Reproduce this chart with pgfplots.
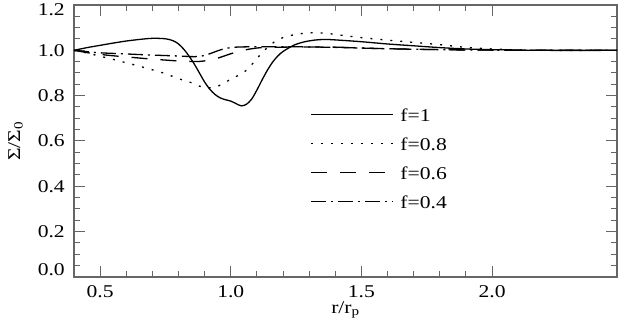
\documentclass[border=0pt]{standalone}
\usepackage{fontspec}
\setmainfont{Liberation Serif}[FakeStretch=1.2]
\usepackage{pgfplots}
\pgfplotsset{compat=1.18}

\definecolor{axisgray}{gray}{0.4}

\begin{document}
\begin{tikzpicture}
\begin{axis}[
    scale only axis,
    width=543pt, height=272pt,
    xmin=0.4, xmax=2.478,
    ymin=0, ymax=1.2,
    xtick={0.5,1.0,1.5,2.0},
    ytick={0,0.2,0.4,0.6,0.8,1.0,1.2},
    yticklabels={\raisebox{7pt}[\height][\depth]{0.0}, 0.2, 0.4, 0.6, 0.8, 1.0,
        \raisebox{-5pt}[\height][\depth]{1.2}},
    minor x tick num=4,
    minor y tick num=3,
    tick align=inside,
    major tick length=11pt,
    minor tick length=6pt,
    axis line style={axisgray, line width=1.3pt},
    every tick/.style={axisgray, line width=1pt},
    /pgf/number format/assume math mode=true,
    /pgf/number format/.cd, fixed, fixed zerofill, precision=1,
    /pgfplots/.cd,
    tick label style={font=\fontsize{18}{20}\selectfont},
    yticklabel style={anchor=east, inner sep=0pt, xshift=-9pt},
    xticklabel style={anchor=north, inner sep=0pt, yshift=-8pt},
    xlabel={r/r\textsubscript{p}},
    ylabel={Σ/Σ\textsubscript{0}},
    label style={font=\fontsize{18}{20}\selectfont},
    xlabel style={at={(axis description cs:0.5,0)}, anchor=north, inner sep=0pt, yshift=-24pt},
    ylabel style={at={(axis description cs:0,0.5)}, anchor=south, inner sep=0pt, yshift=51pt},
    legend cell align=left,
    legend style={draw=none, fill=none, inner sep=0pt, row sep=16pt, column sep=7pt,
        at={(axis description cs:0.4346,0.622)}, anchor=north west,
        font=\fontsize{18}{20}\selectfont,
        nodes={inner sep=0pt, text height=13pt, text depth=0pt}},
    legend image code/.code={\draw[#1] (0pt,0pt) -- (82pt,0pt);},
    every axis plot/.append style={black, line width=1.3pt, smooth},
]

% f = 1
\addplot[solid] coordinates {
(0.40,1.000) (0.45,1.012) (0.50,1.022) (0.55,1.032) (0.60,1.041) (0.65,1.048)
(0.70,1.053) (0.75,1.051) (0.78,1.042) (0.80,1.028) (0.82,1.005) (0.84,0.975)
(0.86,0.940) (0.88,0.900) (0.90,0.860) (0.92,0.828) (0.94,0.805) (0.96,0.790)
(0.98,0.782) (1.00,0.776) (1.02,0.765) (1.04,0.755) (1.06,0.762) (1.08,0.785)
(1.10,0.825) (1.12,0.870) (1.14,0.912) (1.16,0.948) (1.18,0.975) (1.20,0.995)
(1.24,1.022) (1.28,1.037) (1.32,1.045) (1.36,1.048) (1.40,1.046) (1.50,1.038)
(1.60,1.028) (1.70,1.020) (1.80,1.012) (1.90,1.006) (2.00,1.003) (2.20,1.000)
(2.478,1.000)
};

% f = 0.8
\addplot[dash pattern=on 2pt off 8pt] coordinates {
(0.40,1.000) (0.45,0.988) (0.50,0.974) (0.55,0.960) (0.60,0.945) (0.65,0.930)
(0.70,0.914) (0.75,0.897) (0.80,0.875) (0.85,0.857) (0.88,0.842) (0.91,0.835)
(0.94,0.838) (0.97,0.852) (1.00,0.873) (1.03,0.890) (1.06,0.912) (1.09,0.950)
(1.12,0.990) (1.15,1.022) (1.18,1.047) (1.22,1.063) (1.26,1.072) (1.30,1.077)
(1.36,1.076) (1.40,1.070) (1.50,1.056) (1.60,1.045) (1.70,1.035) (1.80,1.025)
(1.90,1.013) (2.00,1.006) (2.10,1.002) (2.20,1.000) (2.478,1.000)
};

% f = 0.6
\addplot[dash pattern=on 16pt off 13pt] coordinates {
(0.40,1.000) (0.45,0.990) (0.50,0.982) (0.55,0.976) (0.60,0.971) (0.65,0.966)
(0.70,0.961) (0.75,0.957) (0.80,0.953) (0.85,0.951) (0.88,0.951) (0.91,0.955)
(0.94,0.962) (0.97,0.973) (1.00,0.985) (1.04,0.998) (1.08,1.007) (1.12,1.012)
(1.20,1.014) (1.30,1.015) (1.40,1.014) (1.50,1.010) (1.60,1.007) (1.70,1.005)
(1.80,1.003) (2.00,1.001) (2.478,1.000)
};

% f = 0.4
\addplot[dash pattern=on 15pt off 5pt on 2pt off 5pt] coordinates {
(0.40,1.000) (0.45,0.994) (0.50,0.989) (0.60,0.984) (0.70,0.979) (0.80,0.975)
(0.86,0.972) (0.89,0.975) (0.92,0.985) (0.95,0.998) (0.98,1.008) (1.02,1.014)
(1.10,1.016) (1.20,1.016) (1.30,1.015) (1.40,1.013) (1.50,1.010) (1.60,1.007)
(1.80,1.003) (2.00,1.001) (2.478,1.000)
};

\legend{f=1, f=0.8, f=0.6, f=0.4}
\end{axis}
\pgfresetboundingbox
\path[use as bounding box] ([xshift=-74pt,yshift=-49pt]current axis.south west)
    rectangle ([xshift=2pt,yshift=5pt]current axis.north east);
\end{tikzpicture}
\end{document}
